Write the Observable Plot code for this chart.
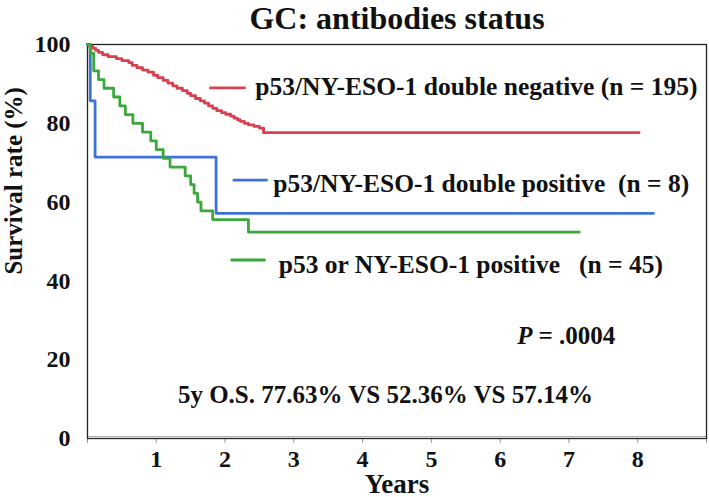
<!DOCTYPE html>
<html><head><meta charset="utf-8">
<script src="https://cdn.jsdelivr.net/npm/d3@7"></script>
<script src="https://cdn.jsdelivr.net/npm/@observablehq/plot@0.6"></script>
<style>
body{margin:0;background:#fff;}
</style></head><body><div id="chart"></div>
<script>
// Kaplan-Meier step data (years, survival %)
const redTime = [0,0.03,0.08,0.12,0.16,0.22,0.30,0.42,0.50,0.60,0.65,0.72,0.80,0.88,0.96,1.02,1.10,1.17,1.24,1.30,1.38,1.45,1.50,1.57,1.64,1.70,1.76,1.82,1.88,1.95,2.01,2.08,2.13,2.18,2.22,2.28,2.34,2.42,2.50,2.56,8.02];
const redSurv = [100,99.5,99.0,98.5,98.0,97.4,96.9,96.4,95.9,95.4,94.7,94.1,93.5,93.0,92.2,91.6,90.9,90.2,89.5,88.9,88.3,87.6,87.0,86.3,85.7,85.1,84.4,83.8,83.2,82.7,82.3,81.8,81.3,80.9,80.5,80.0,79.6,79.2,78.8,77.63,77.63];
const blueTime = [0,0.04,0.11,1.87,8.23];
const blueSurv = [100,85.71,71.43,57.14,57.14];
const greenTime = [0,0.04,0.09,0.16,0.24,0.38,0.47,0.55,0.66,0.80,0.92,1.00,1.10,1.20,1.42,1.50,1.55,1.60,1.65,1.82,2.34,7.15];
const greenSurv = [100,97.78,93.33,91.11,88.89,86.67,84.44,82.22,80.0,77.78,75.56,73.33,71.11,68.89,66.67,64.44,62.22,60.0,57.78,55.56,52.36,52.36];

const seriesNames = ["double negative","double positive","single positive"];
const seriesColors = ["#d8404f","#3f72d6","#3aa83a"];

// legend annotations
const legendLabels = ["p53/NY-ESO-1 double negative (n = 195)","p53/NY-ESO-1 double positive  (n = 8)","p53 or NY-ESO-1 positive   (n = 45)"];
const legendX1 = [1.77,2.11,2.08];
const legendX2 = [2.30,2.62,2.59];
const legendLineY = [89.0,65.6,45.3];
const legendTextX = [2.44,2.70,2.78];
const legendTextY = [87.3,62.6,42.0];

const xTicks = [0,1,2,3,4,5,6,7,8,9];
const yTicks = [0,20,40,60,80,100];

const titleText = "GC: antibodies status";
const xLabel = "Years";
const yLabel = "Survival rate (%)";
const yLabelPos = [-1.07, 65.4];
const pText = ["P"," = .0004"];
const pPos = [6.25, 23.9];
const statText = "5y O.S. 77.63% VS 52.36% VS 57.14%";
const statPos = [7.35, 8.9];

const rows = [];
[[redTime,redSurv],[blueTime,blueSurv],[greenTime,greenSurv]].forEach(([t,s],i)=>{
  t.forEach((v,j)=>rows.push({series: seriesNames[i], t: v, s: s[j]}));
});
const legendRows = legendLabels.map((l,i)=>({label:l, series: seriesNames[i], x1: legendX1[i], x2: legendX2[i], y: legendLineY[i], tx: legendTextX[i], ty: legendTextY[i]}));

const font = "'Liberation Serif','Times New Roman',serif";
const plot = Plot.plot({
  width: 709, height: 497,
  marginTop: 44, marginBottom: 59, marginLeft: 87, marginRight: 3,
  style: {fontFamily: font, fontWeight: "bold", fontSize: "22px", background: "white", color: "#111", overflow: "visible"},
  x: {domain: [0, 9]},
  y: {domain: [0, 100]},
  color: {domain: seriesNames, range: seriesColors},
  marks: [
    Plot.axisX({ticks: xTicks, tickSize: 5, stroke: "#999", tickPadding: 6, fontSize: 24, tickFormat: d => (d === 0 || d === 9) ? "" : String(d), label: null}),
    Plot.axisY({ticks: yTicks, tickSize: 0, tickPadding: 17, fontSize: 24, label: null}),
    Plot.ruleY([0], {stroke: "#aaa", strokeWidth: 1, dy: -2}),
    Plot.frame({stroke: "#222", strokeWidth: 1.3}),
    Plot.line(rows, {x: "t", y: "s", z: "series", stroke: "series", curve: "step-after", strokeWidth: 2.8}),
    Plot.link(legendRows, {x1: "x1", x2: "x2", y1: "y", y2: "y", stroke: "series", strokeWidth: 2.8}),
    Plot.text(legendRows, {x: "tx", y: "ty", text: "label", textAnchor: "start", lineAnchor: "bottom", fontSize: 25.5, fontWeight: "bold", fill: "#111"}),
    Plot.text([titleText], {frameAnchor: "top", dy: -16, lineAnchor: "bottom", fontSize: 32, fontWeight: "bold", fill: "#111"}),
    Plot.text([xLabel], {frameAnchor: "bottom", dy: 54, lineAnchor: "bottom", fontSize: 27, fontWeight: "bold", fill: "#111"}),
    Plot.text([yLabel], {x: [yLabelPos[0]], y: [yLabelPos[1]], rotate: -90, fontSize: 25, fontWeight: "bold", fill: "#111", clip: false}),
    Plot.text([pText[0]], {x: [pPos[0]], y: [pPos[1]], textAnchor: "start", lineAnchor: "bottom", fontSize: 25, fontStyle: "italic", fontWeight: "bold", fill: "#111"}),
    Plot.text([pText[1]], {x: [pPos[0]], y: [pPos[1]], dx: 15, textAnchor: "start", lineAnchor: "bottom", fontSize: 25, fontWeight: "bold", fill: "#111"}),
    Plot.text([statText], {x: [statPos[0]], y: [statPos[1]], textAnchor: "end", lineAnchor: "bottom", fontSize: 25, fontWeight: "bold", fill: "#111"})
  ]
});
document.getElementById("chart").appendChild(plot);
</script>
</body></html>
